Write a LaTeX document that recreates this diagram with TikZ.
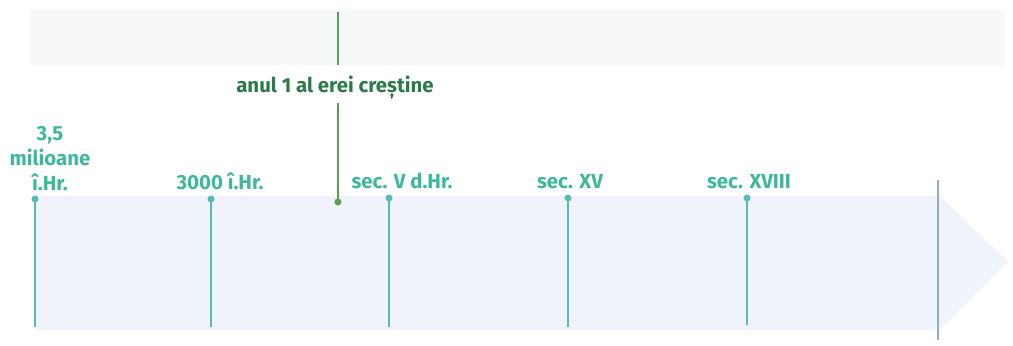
\documentclass[tikz,border=0pt]{standalone}
\usepackage{fontspec}
\setmainfont{Fira Sans}
\usetikzlibrary{positioning}
\definecolor{tealtxt}{RGB}{62,184,156}
\definecolor{tealline}{RGB}{86,186,182}
\definecolor{greentxt}{RGB}{44,122,74}
\definecolor{greenline}{RGB}{92,160,84}
\definecolor{arrowfill}{RGB}{240,244,250}
\definecolor{bandfill}{RGB}{247,248,250}
\definecolor{edgeline}{RGB}{140,176,200}

\begin{document}
\begin{tikzpicture}[x=0.025cm, y=-0.025cm,
  datelabel/.style={font=\bfseries\fontsize{14.5}{17.8}\selectfont, text=tealtxt, align=center, inner sep=1pt, text depth=0pt},
  tickline/.style={tealline, line width=1.8pt},
  tickdot/.style={circle, fill=tealline, inner sep=0pt, minimum size=5pt}]
\useasboundingbox (0,0) rectangle (1013,346);
% fondul
\fill[bandfill] (30,10) rectangle (1005,65);
\fill[arrowfill] (35,196) -- (940,196) -- (1008,262) -- (940,330) -- (35,330) -- cycle;
\draw[edgeline, line width=1.2pt] (938,180) -- (938,340);

% reperele
\node[tickdot] (d1) at (35,199) {};
\node[tickdot] (d2) at (211,199) {};
\node[tickdot] (d3) at (389,198) {};
\node[tickdot] (d4) at (568,198) {};
\node[tickdot] (d5) at (747,198) {};
\coordinate (b1) at (35,327);
\coordinate (b2) at (211,327);
\coordinate (b3) at (389,327);
\coordinate (b4) at (568,327);
\coordinate (b5) at (747,325);
\draw[tickline] (d1.center) -- (b1);
\draw[tickline] (d2.center) -- (b2);
\draw[tickline] (d3.center) -- (b3);
\draw[tickline] (d4.center) -- (b4);
\draw[tickline] (d5.center) -- (b5);

\node[datelabel, above=2pt of d1, xshift=0.375cm] (t1) {3,5\\milioane\\î.Hr.};
\node[datelabel, above=3pt of d2, xshift=0.225cm] (t2) {3000 î.Hr.};
\node[datelabel, above=3pt of d3, xshift=0.325cm] (t3) {sec. V d.Hr.};
\node[datelabel, above=3pt of d4, xshift=0.05cm] (t4) {sec. XV};
\node[datelabel, above=3pt of d5, xshift=0.05cm] (t5) {sec. XVIII};

% anul 1
\node[font=\bfseries\fontsize{14.5}{17.8}\selectfont, text=greentxt, inner sep=1pt] (era) at (335,88) {anul 1 al erei creștine};
\coordinate (g0) at (338,12);
\coordinate (g1) at (338,65);
\coordinate (g2) at (338,103);
\node[circle, fill=greenline, inner sep=0pt, minimum size=5pt] (gd) at (338,202) {};
\draw[greenline, line width=1.3pt] (g0) -- (g1);
\draw[greenline, line width=1.3pt] (g2) -- (gd.center);
\end{tikzpicture}
\end{document}
